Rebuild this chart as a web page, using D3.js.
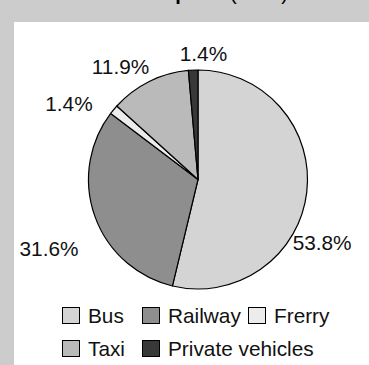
<!DOCTYPE html>
<html>
<head>
<meta charset="utf-8">
<script src="https://cdn.jsdelivr.net/npm/d3@7"></script>
<style>
  html, body { margin: 0; padding: 0; background: #cccccc; }
  svg { display: block; font-family: "Liberation Sans", Arial, sans-serif; }
</style>
</head>
<body>
<svg id="chart" width="369" height="365"></svg>
<script>
// Share of trips by mode (values in %)
const modes = ["Bus", "Railway", "Frerry", "Taxi", "Private vehicles"];
const shares = [53.8, 31.6, 1.4, 11.9, 1.4];
const shareLabels = ["53.8%", "31.6%", "1.4%", "11.9%", "1.4%"];
const fills = ["#d4d4d4", "#8e8e8e", "#ececec", "#bababa", "#383838"];

// label placement (layout only): angle shift from slice middle, distance from centre
const labelShift = [20, -5, -9, -8, 5];
const labelDist = [139, 164, 150, 137, 126];

const W = 369, H = 365;
const cx = 198, cy = 179.5, R = 109.5;
const FS = 20.8;

const svg = d3.select("#chart");

// white plot panel over grey page
svg.append("rect").attr("x", 14).attr("y", 22).attr("width", W - 14).attr("height", H - 22).attr("fill", "#ffffff");

// title, cut off by the top edge (only descenders show)
const title = svg.append("text").attr("x", 122).attr("y", 0).attr("font-size", 20).attr("fill", "#000");
title.append("tspan").attr("font-weight", "bold").text("Transport");
title.append("tspan").attr("x", 230).text("(2013)");

const pie = d3.pie().sort(null).value((d) => d)(shares);
const arc = d3.arc().innerRadius(0).outerRadius(R);

const g = svg.append("g").attr("transform", `translate(${cx},${cy})`);

g.selectAll("path.slice")
  .data(pie)
  .join("path")
  .attr("class", "slice")
  .attr("d", arc)
  .attr("fill", (d, i) => fills[i])
  .attr("stroke", "#000")
  .attr("stroke-width", 1.2)
  .attr("stroke-linejoin", "round");

function labelAngle(d, i) {
  return (d.startAngle + d.endAngle) / 2 + (labelShift[i] * Math.PI) / 180;
}

g.selectAll("text.lbl")
  .data(pie)
  .join("text")
  .attr("class", "lbl")
  .attr("x", (d, i) => Math.sin(labelAngle(d, i)) * labelDist[i])
  .attr("y", (d, i) => -Math.cos(labelAngle(d, i)) * labelDist[i])
  .attr("text-anchor", "middle")
  .attr("dominant-baseline", "central")
  .attr("font-size", FS)
  .attr("fill", "#111")
  .text((d, i) => shareLabels[i]);

// legend: two rows
const legendRows = [[0, 1, 2], [3, 4]];
const colX = [62, 142, 248];
const rowY = [307, 340];
legendRows.forEach((row, r) => {
  row.forEach((idx, c) => {
    const lg = svg.append("g").attr("transform", `translate(${colX[c]},${rowY[r]})`);
    lg.append("rect")
      .attr("x", 0.5).attr("y", 0.5)
      .attr("width", 17).attr("height", 16)
      .attr("fill", fills[idx])
      .attr("stroke", "#000").attr("stroke-width", 1);
    lg.append("text")
      .attr("x", 26).attr("y", 16)
      .attr("font-size", FS)
      .attr("fill", "#111")
      .text(modes[idx]);
  });
});
</script>
</body>
</html>
